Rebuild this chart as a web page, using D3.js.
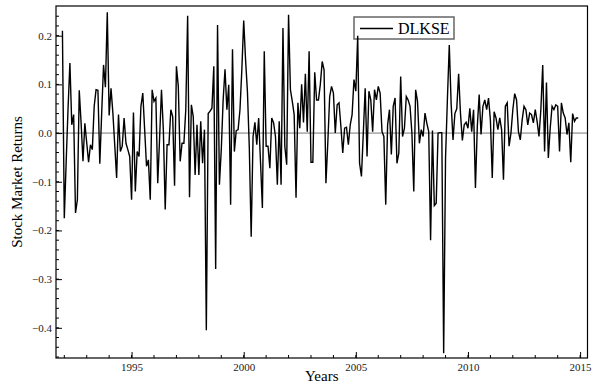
<!DOCTYPE html>
<html>
<head>
<meta charset="utf-8">
<script src="https://cdn.jsdelivr.net/npm/d3@7"></script>
<style>
body { margin: 0; background: #fff; }
svg { display: block; }
svg text { font-family: "Liberation Serif", "DejaVu Serif", serif; }
</style>
</head>
<body>
<div id="chart"></div>
<script>
// monthly returns, first value = Dec 1991
var seriesName = "DLKSE";
var startYear = 1991, startMonth = 12;

// Dec 1991 - Dec 1999
var returns1990s = [
    0.21, -0.175, -0.06, 0.05, 0.144, 0.017, 0.038, -0.164, -0.137, 0.088, 0.02, -0.058,
    0.02, -0.02, -0.06, -0.024, -0.034, 0.055, 0.089, 0.088, -0.063, 0.04, 0.14, 0.094,
    0.248, 0.036, 0.092, 0.041, -0.025, -0.092, 0.038, -0.038, -0.027, 0.031, -0.021, -0.034,
    -0.048, -0.137, 0.042, -0.12, -0.038, -0.048, 0.055, 0.082, 0.007, -0.068, -0.055, -0.137,
    0.089, 0.065, 0.072, -0.103, -0.01, 0.089, 0.007, -0.157, -0.024, -0.024, 0.048, 0.034,
    -0.108, 0.137, 0.096, -0.058, -0.021, -0.021, 0.048, 0.241, -0.132, 0.058, 0.034, -0.086,
    0.017, -0.086, 0.024, -0.062, 0.007, -0.405, 0.04, 0.045, 0.051, 0.137, -0.279, 0.222,
    -0.106, -0.034, 0.068, 0.131, 0.048, 0.099, -0.147, 0.172, -0.038, 0.005, 0.007, 0.048,
    0.13
];

// Jan 2000 - Dec 2009
var returns2000s = [
    0.231, 0.15, 0.085, -0.03, -0.213, -0.007, 0.022, -0.024, 0.031, -0.06, -0.154, 0.168,
    -0.027, -0.027, -0.072, 0.031, 0.021, -0.007, -0.106, 0.024, -0.106, 0.216, -0.027, -0.065,
    0.243, 0.089, 0.065, 0.038, -0.133, 0.062, 0.01, 0.1, 0.022, 0.122, 0.003, 0.168,
    -0.06, -0.06, 0.125, 0.068, 0.068, 0.1, 0.147, 0.13, -0.103, -0.02, 0.075, 0.096,
    0.082, 0.0, 0.058, 0.062, 0.014, -0.041, 0.01, 0.012, -0.024, 0.017, 0.038, 0.11,
    0.086, 0.2, -0.062, -0.089, 0.0, 0.092, -0.048, 0.086, 0.068, 0.003, 0.089, 0.068,
    0.096, 0.082, 0.003, -0.007, -0.147, 0.017, 0.048, -0.044, 0.055, 0.072, -0.062, -0.041,
    0.116, -0.007, 0.01, 0.075, 0.068, 0.055, 0.0, -0.12, 0.089, 0.065, -0.021, 0.007,
    -0.007, 0.041, 0.02, 0.003, -0.22, 0.005, -0.149, -0.144, 0.0, 0.001, 0.001, -0.452,
    -0.05, 0.07, 0.181, 0.06, -0.014, 0.04, 0.05, 0.122, 0.04, -0.015, 0.017, 0.022
];

// Jan 2010 - Dec 2014
var returns2010s = [
    0.01, 0.051, 0.003, 0.048, -0.113, 0.014, 0.079, -0.003, 0.055, 0.068, 0.048, 0.072,
    0.027, -0.092, 0.044, 0.031, 0.007, 0.031, 0.007, -0.096, 0.055, 0.062, -0.027, 0.0,
    0.048, 0.081, 0.068, 0.003, -0.014, 0.027, 0.055, 0.048, 0.017, 0.041, 0.038, 0.021,
    0.048, 0.024, -0.007, 0.048, 0.14, -0.038, 0.104, -0.051, 0.01, 0.055, 0.048, 0.058,
    0.055, -0.038, 0.062, 0.041, 0.031, -0.003, 0.021, -0.06, 0.04, 0.024, 0.031, 0.031
];

var xTicks = [1995, 2000, 2005, 2010, 2015];
var yTicks = [-0.4, -0.3, -0.2, -0.1, 0.0, 0.1, 0.2];

var returns = returns1990s.concat(returns2000s, returns2010s);
var data = returns.map(function (v, i) {
    return { x: startYear + (startMonth - 1 + i) / 12, y: v };
});

var W = 592, H = 385;
var margin = {top: 6, right: 4.5, bottom: 27, left: 56},
    width = W - margin.left - margin.right,
    height = H - margin.top - margin.bottom;

var x = d3.scaleLinear().domain([1991.63, 2015.33]).range([0, width]);
var y = d3.scaleLinear().domain([-0.462, 0.261]).range([height, 0]);

var svg = d3.select("#chart").append("svg")
    .attr("width", W)
    .attr("height", H)
    .append("g")
    .attr("transform", "translate(" + margin.left + "," + margin.top + ")");

// zero line
svg.append("line")
    .attr("x1", 0).attr("x2", width)
    .attr("y1", y(0)).attr("y2", y(0))
    .attr("stroke", "#777")
    .attr("stroke-width", 1);

// minor ticks, inside the frame
var minorX = d3.range(1992, 2016);
var minorY = d3.range(-46, 26, 2).map(function (d) { return d / 100; });

svg.append("g").selectAll("line")
    .data(minorX)
    .enter().append("line")
    .attr("x1", function (d) { return x(d); })
    .attr("x2", function (d) { return x(d); })
    .attr("y1", height).attr("y2", height - 3)
    .attr("stroke", "#000");

svg.append("g").selectAll("line")
    .data(minorY)
    .enter().append("line")
    .attr("x1", 0).attr("x2", 3)
    .attr("y1", function (d) { return y(d); })
    .attr("y2", function (d) { return y(d); })
    .attr("stroke", "#000");

var styleAxis = function (g) {
    g.attr("font-family", null).attr("font-size", null);
    g.select(".domain").remove();
    g.selectAll("text")
        .style("font-family", "'Liberation Serif', serif")
        .style("font-size", "11px")
        .attr("fill", "#222");
};

// axes
svg.append("g")
    .attr("class", "axis axis--x")
    .attr("transform", "translate(0," + height + ")")
    .call(d3.axisBottom(x).tickValues(xTicks).tickFormat(d3.format("d"))
        .tickSizeInner(-6).tickSizeOuter(0).tickPadding(5))
    .call(styleAxis);

svg.append("g")
    .attr("class", "axis axis--y")
    .call(d3.axisLeft(y).tickValues(yTicks).tickFormat(d3.format(".1f"))
        .tickSizeInner(-6).tickSizeOuter(0).tickPadding(4))
    .call(styleAxis);

// legend box (drawn before the line so the line sits on top)
var key = svg.append("g")
    .attr("transform", "translate(" + (354 - margin.left) + "," + (17 - margin.top) + ")");
key.append("rect")
    .attr("width", 100).attr("height", 22)
    .attr("fill", "none")
    .attr("stroke", "#666")
    .attr("stroke-width", 1.5);
key.append("line")
    .attr("x1", 6).attr("x2", 39)
    .attr("y1", 11.5).attr("y2", 11.5)
    .attr("stroke", "#000").attr("stroke-width", 1.3);
key.append("text")
    .attr("x", 44).attr("y", 17)
    .attr("font-size", 16)
    .attr("fill", "#000")
    .text(seriesName);

// data line
var line = d3.line()
    .x(function (d) { return x(d.x); })
    .y(function (d) { return y(d.y); });

svg.append("path")
    .datum(data)
    .attr("fill", "none")
    .attr("stroke", "#000")
    .attr("stroke-width", 1.4)
    .attr("d", line);

// frame
svg.append("rect")
    .attr("width", width).attr("height", height)
    .attr("fill", "none")
    .attr("stroke", "#000")
    .attr("stroke-width", 1.2);

// axis titles
svg.append("text")
    .attr("x", width / 2)
    .attr("y", height + 23)
    .attr("text-anchor", "middle")
    .attr("font-size", 15)
    .text("Years");

svg.append("text")
    .attr("transform", "translate(" + (22 - margin.left) + "," + (height / 2) + ") rotate(-90)")
    .attr("text-anchor", "middle")
    .attr("font-size", 15)
    .text("Stock Market Returns");
</script>
</body>
</html>
